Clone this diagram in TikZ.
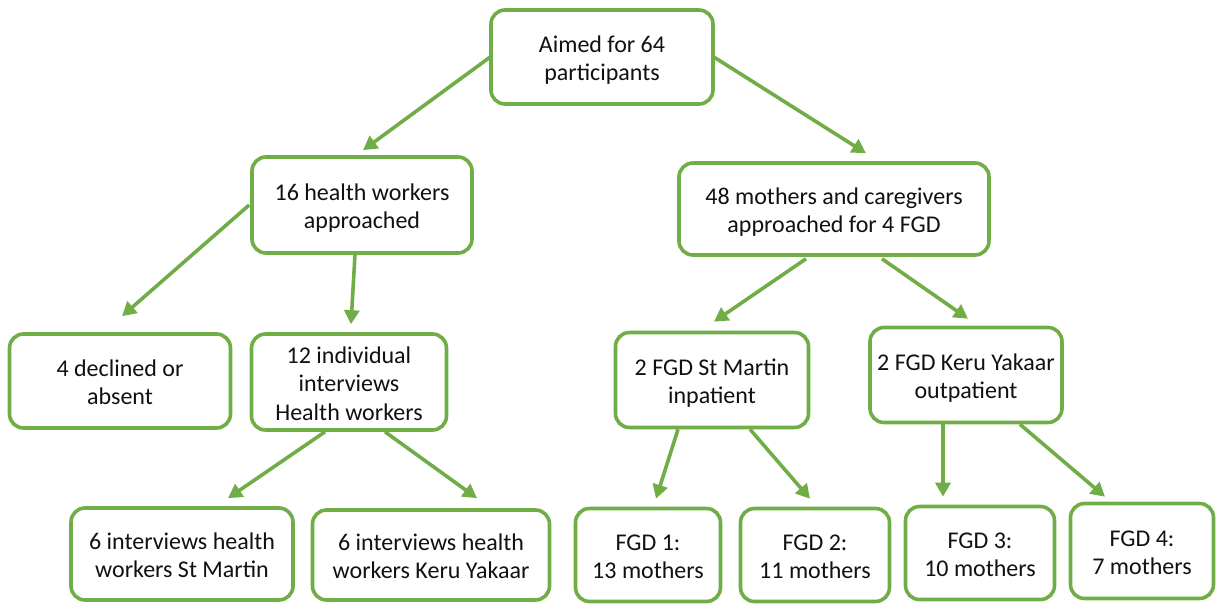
\documentclass[tikz,border=0pt]{standalone}
\usepackage{fontspec}
\setmainfont{Carlito}
\usetikzlibrary{arrows.meta,calc}
\definecolor{grn}{HTML}{70AD47}
\definecolor{txt}{HTML}{111111}
\newcommand{\bxt}[1]{\raisebox{-4pt}[\height][\depth]{\begin{tabular}{@{}c@{}}#1\end{tabular}}}
\begin{document}
\begin{tikzpicture}[x=1pt,y=-1pt,
  box/.style={draw=grn,line width=3.6pt,rounded corners=14pt,fill=white,
    inner sep=0pt,text=txt,
    font=\fontsize{24}{28.5}\selectfont},
  conn/.style={draw=grn,line width=3.6pt,-{Triangle[length=14pt,width=15pt]}}]
\useasboundingbox (0,0) rectangle (1216,603);
\node[box,minimum width=222pt,minimum height=94pt] (aim) at (602,57) {\bxt{Aimed for 64\\participants}};
\node[box,minimum width=220pt,minimum height=96pt] (hw) at (362,205) {\bxt{16 health workers\\approached}};
\node[box,minimum width=310pt,minimum height=92pt] (mo) at (834,209) {\bxt{48 mothers and caregivers\\approached for 4 FGD}};
\node[box,minimum width=221pt,minimum height=94pt] (dec) at (120,381) {\bxt{4 declined or\\absent}};
\node[box,minimum width=195pt,minimum height=96pt] (ind) at (349,382) {\bxt{12 individual\\interviews\\Health workers}};
\node[box,minimum width=193pt,minimum height=95pt] (sm) at (712,380) {\bxt{2 FGD St Martin\\inpatient}};
\node[box,minimum width=192pt,minimum height=95pt] (ky) at (966,375) {\bxt{2 FGD Keru Yakaar\\outpatient}};
\node[box,minimum width=222pt,minimum height=92pt] (ism) at (182,554) {\bxt{6 interviews health\\workers St Martin}};
\node[box,minimum width=237pt,minimum height=90pt] (iky) at (431,555) {\bxt{6 interviews health\\workers Keru Yakaar}};
\node[box,minimum width=145pt,minimum height=93pt] (f1) at (648,555) {\bxt{FGD 1:\\13 mothers}};
\node[box,minimum width=149pt,minimum height=93pt] (f2) at (815,555) {\bxt{FGD 2:\\11 mothers}};
\node[box,minimum width=149pt,minimum height=93pt] (f3) at (980,553) {\bxt{FGD 3:\\10 mothers}};
\node[box,minimum width=143pt,minimum height=95pt] (f4) at (1142,551) {\bxt{FGD 4:\\7 mothers}};

\draw[conn] ([xshift=1pt]aim.west) -- ([shift={(1,-5)}]hw.north);
\draw[conn] ([xshift=-1pt]aim.east) -- ([shift={(32,-8)}]mo.north);
\draw[conn] ([xshift=-1pt]hw.west) -- ([shift={(2,-16)}]dec.north);
\draw[conn] ([shift={(-7,0)}]hw.south) -- ([shift={(2,-8)}]ind.north);
\draw[conn] ([shift={(-28,2)}]mo.south) -- ([shift={(2,-9)}]sm.north);
\draw[conn] ([shift={(48,2)}]mo.south) -- ([shift={(2,-7)}]ky.north);
\draw[conn] ([shift={(-24,0)}]ind.south) -- ([shift={(46,-8)}]ism.north);
\draw[conn] ([shift={(36,0)}]ind.south) -- ([shift={(46,-10)}]iky.north);
\draw[conn] ([shift={(-34,0)}]sm.south) -- ([shift={(8,-8)}]f1.north);
\draw[conn] ([shift={(38,0)}]sm.south) -- ([shift={(-5,-8)}]f2.north);
\draw[conn] ([shift={(-23,0)}]ky.south) -- ([shift={(-37,-8)}]f3.north);
\draw[conn] ([shift={(54,0)}]ky.south) -- ([shift={(-37,-5)}]f4.north);
\end{tikzpicture}
\end{document}
